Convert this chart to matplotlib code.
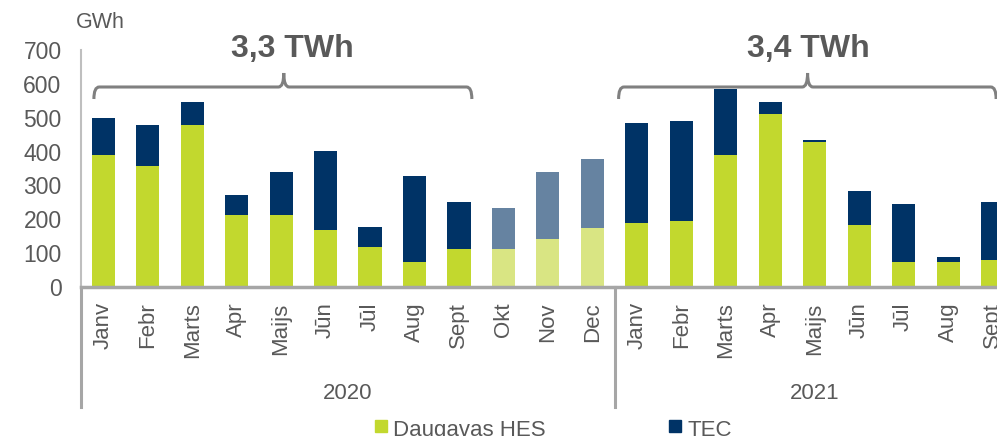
import matplotlib
matplotlib.use("Agg")
import matplotlib.pyplot as plt
from matplotlib.path import Path
from matplotlib.patches import PathPatch, Rectangle
from matplotlib.transforms import blended_transform_factory
from matplotlib.lines import Line2D

plt.rcParams['font.family'] = ['Liberation Sans', 'DejaVu Sans']

months = ["Janv", "Febr", "Marts", "Apr", "Maijs", "Jūn", "Jūl", "Aug", "Sept", "Okt", "Nov", "Dec",
          "Janv", "Febr", "Marts", "Apr", "Maijs", "Jūn", "Jūl", "Aug", "Sept"]
years = ["2020", "2021"]
year_counts = [12, 9]
hes = [391, 358, 478, 213, 213, 169, 118, 74, 112, 113, 143, 175,
       188, 195, 391, 510, 428, 182, 75, 75, 81]
tec = [107, 120, 69, 59, 127, 233, 59, 254, 139, 120, 197, 203,
       296, 295, 194, 37, 5, 101, 170, 14, 170]
forecast = [False] * 9 + [True] * 3 + [False] * 9
yticks = [0, 100, 200, 300, 400, 500, 600, 700]
totals_text = ["3,3 TWh", "3,4 TWh"]
legend_labels = ["Daugavas HES", "TEC"]

GREEN = "#C2D82E"
NAVY = "#003366"
GREEN_F = "#D9E583"
NAVY_F = "#6683A1"
GRAY_TXT = "#595959"
GRAY_AX = "#A6A6A6"

W, H = 997, 436
fig = plt.figure(figsize=(W / 100, H / 100), dpi=100)
ax = fig.add_axes([81 / W, 1 - 287 / H, 1 - 81 / W, (287 - 50) / H])

x = list(range(len(months)))
gcol = [GREEN_F if f else GREEN for f in forecast]
ncol = [NAVY_F if f else NAVY for f in forecast]
ax.bar(x, hes, width=0.52, color=gcol, zorder=2)
ax.bar(x, tec, width=0.52, bottom=hes, color=ncol, zorder=2)

ax.set_xlim(-0.5, 20.1)
ax.set_ylim(0, 700)
ax.set_yticks(yticks)
ax.set_yticklabels([str(v) for v in yticks], fontsize=16.5, color=GRAY_TXT)
ax.tick_params(axis='y', length=0, pad=14)
ax.set_xticks(x)
ax.set_xticklabels(months, rotation=90, fontsize=16, color=GRAY_TXT)
ax.tick_params(axis='x', length=0, pad=11)
for s in ["top", "right"]:
    ax.spines[s].set_visible(False)
ax.spines["left"].set_color("#BFBFBF")
ax.spines["left"].set_linewidth(1.5)
ax.spines["bottom"].set_color(GRAY_AX)
ax.spines["bottom"].set_linewidth(2.5)

tr = blended_transform_factory(ax.transData, fig.transFigure)

# category group separators
start = 0
seps = [-0.5]
for c in year_counts:
    start += c
    seps.append(start - 0.5)
for sx in seps[:-1]:
    ax.add_line(Line2D([sx, sx], [1 - 287 / H, 1 - 407 / H], transform=tr,
                       color=GRAY_AX, lw=2.2, clip_on=False))

# year labels
start = 0
for yl, c in zip(years, year_counts):
    cx = start + (c - 1) / 2
    ax.text(cx, 1 - 393 / H, yl, transform=tr, ha='center', va='center',
            fontsize=16, color=GRAY_TXT)
    start += c

# GWh label
fig.text(76 / W, 1 - 23 / H, "GWh", ha='left', va='center', fontsize=15.5, color=GRAY_TXT)

# braces
def brace(x0, x1, xc):
    yh = 1 - 87 / H
    yb = 1 - 99 / H
    yt = 1 - 73 / H
    r = 0.12
    verts = [(x0, yb), (x0, yh), (x0 + r, yh),
             (xc - r, yh), (xc, yh), (xc, yt),
             (xc, yh), (xc + r, yh),
             (x1 - r, yh), (x1, yh), (x1, yb)]
    codes = [Path.MOVETO, Path.CURVE3, Path.CURVE3,
             Path.LINETO, Path.CURVE3, Path.CURVE3,
             Path.CURVE3, Path.CURVE3,
             Path.LINETO, Path.CURVE3, Path.CURVE3]
    p = PathPatch(Path(verts, codes), transform=tr, fill=False,
                  edgecolor="#808080", lw=2.2, clip_on=False)
    ax.add_patch(p)

brace(-0.21, 8.29, 4.06)
brace(11.59, 20.08, 15.84)
ax.text(4.26, 1 - 49 / H, totals_text[0], transform=tr, ha='center', va='center',
        fontsize=23, fontweight='bold', color=GRAY_TXT)
ax.text(15.85, 1 - 49 / H, totals_text[1], transform=tr, ha='center', va='center',
        fontsize=23, fontweight='bold', color=GRAY_TXT)

# legend
for (sx, tx, col, lab) in [(375, 393, GREEN, legend_labels[0]), (669, 688, NAVY, legend_labels[1])]:
    fig.patches.append(Rectangle((sx / W, 1 - 432 / H), 12 / W, 12 / H,
                                 transform=fig.transFigure, color=col))
    fig.text(tx / W, 1 - 430 / H, lab, ha='left', va='center', fontsize=16, color=GRAY_TXT)

fig.savefig("out.png", dpi=100)
